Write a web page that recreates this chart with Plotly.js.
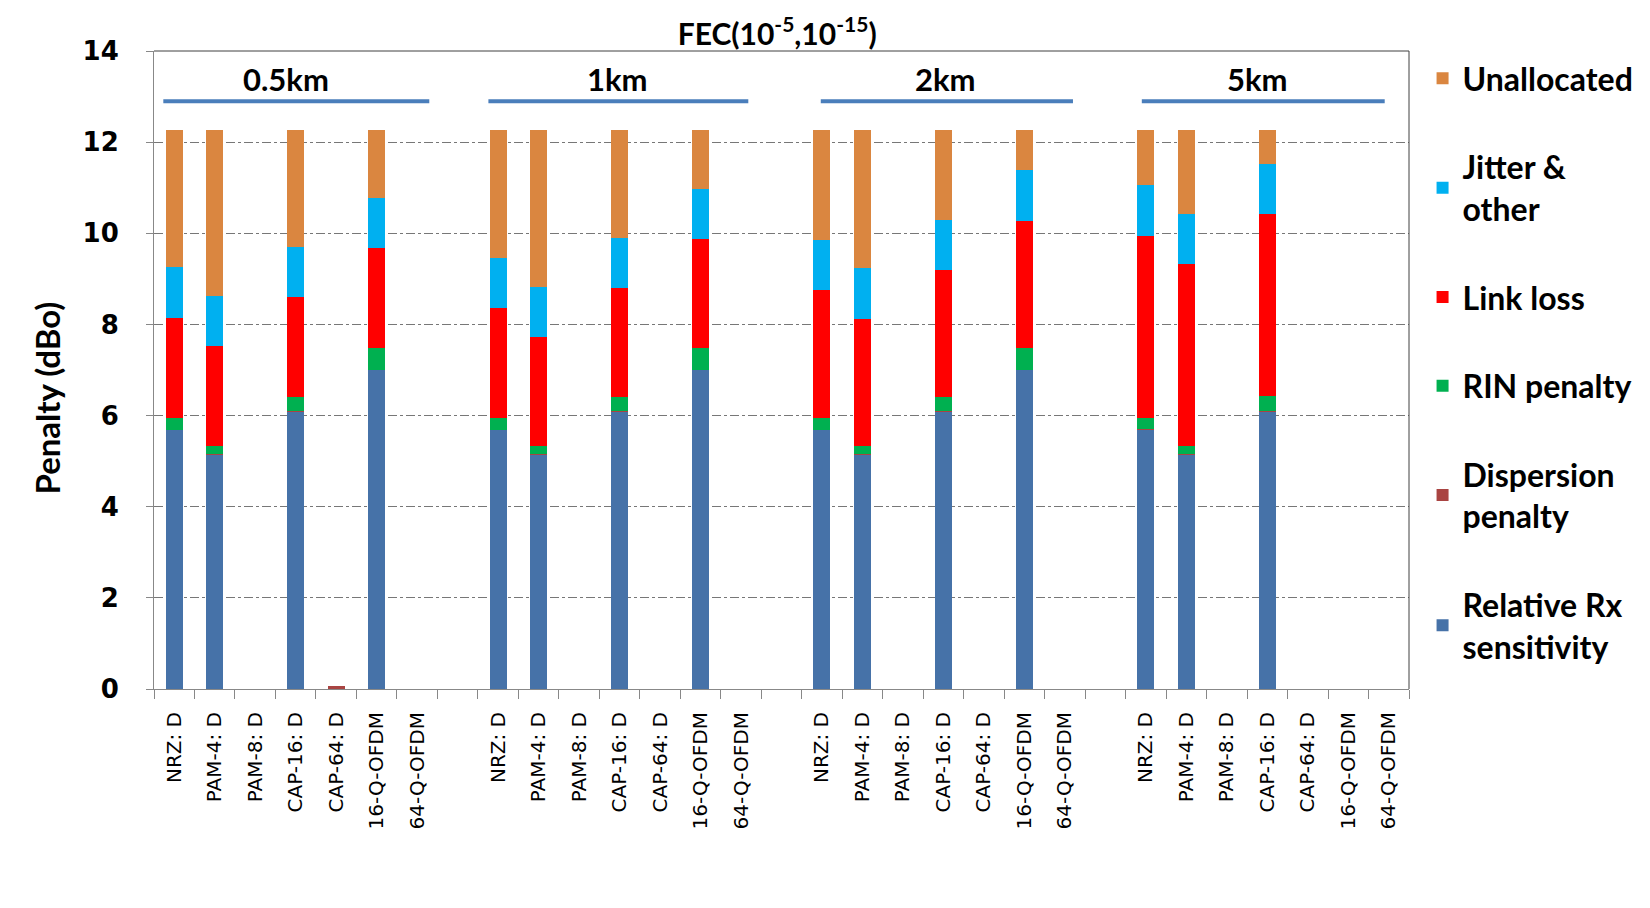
<!DOCTYPE html>
<html>
<head>
<meta charset="utf-8">
<script src="https://cdn.plot.ly/plotly-3.0.1.min.js"></script>
<style>html,body{margin:0;padding:0;background:#fff;}#chart{width:1650px;height:908px;}</style>
</head>
<body>
<div id="chart"></div>
<script>
// ---- data ----
const modulations = ["NRZ: D","PAM-4: D","PAM-8: D","CAP-16: D","CAP-64: D","16-Q-OFDM","64-Q-OFDM"];
const distances = ["0.5km","1km","2km","5km"];
// each series: 4 distance groups x 7 modulations (null = no bar)
const relRxSensitivity = [
  5.68,5.13,null,6.08,null,6.99,null,
  5.68,5.13,null,6.08,null,6.99,null,
  5.68,5.13,null,6.08,null,6.99,null,
  5.68,5.13,null,6.08,null,null,null];
const dispersionPenalty = [
  0.01,0.02,null,0.02,0.06,0.01,null,
  0.01,0.02,null,0.02,null,0.01,null,
  0.01,0.02,null,0.02,null,0.01,null,
  0.02,0.03,null,0.03,null,null,null];
const rinPenalty = [
  0.26,0.18,null,0.30,null,0.48,null,
  0.26,0.18,null,0.30,null,0.48,null,
  0.26,0.18,null,0.30,null,0.48,null,
  0.25,0.17,null,0.31,null,null,null];
const linkLoss = [
  2.2,2.2,null,2.2,null,2.2,null,
  2.4,2.4,null,2.4,null,2.4,null,
  2.8,2.8,null,2.8,null,2.8,null,
  4.0,4.0,null,4.0,null,null,null];
const jitterOther = [
  1.1,1.1,null,1.1,null,1.1,null,
  1.1,1.1,null,1.1,null,1.1,null,
  1.1,1.1,null,1.1,null,1.1,null,
  1.1,1.1,null,1.1,null,null,null];
const unallocated = [
  3.02,3.63,null,2.56,null,1.48,null,
  2.81,3.43,null,2.36,null,1.28,null,
  2.41,3.03,null,1.96,null,0.88,null,
  1.21,1.83,null,0.74,null,null,null];
const yTicks = [0,2,4,6,8,10,12,14];

// ---- build category slots (7 per group + 1 empty gap slot) ----
const slotsPerGroup = modulations.length + 1;
const nSlots = distances.length * slotsPerGroup - 1;
const xPos = [], tickText = [];
distances.forEach((d, g) => modulations.forEach((m, k) => { xPos.push(g * slotsPerGroup + k); tickText.push(m); }));
const boundaries = [];
for (let i = 0; i <= nSlots; i++) boundaries.push(i - 0.5);

const series = [
  {name: "Relative Rx<br>sensitivity", y: relRxSensitivity, color: "#4672A8"},
  {name: "Dispersion<br>penalty", y: dispersionPenalty, color: "#A94442"},
  {name: "RIN penalty", y: rinPenalty, color: "#00B050"},
  {name: "Link loss", y: linkLoss, color: "#FF0000"},
  {name: "Jitter &<br>other", y: jitterOther, color: "#00B0F0"},
  {name: "Unallocated", y: unallocated, color: "#DA8640"}
];
const traces = series.map((s, i) => ({
  type: "bar", x: xPos, y: s.y, name: s.name, legendgroup: "g" + i, legendrank: 1000 - i * 10,
  marker: {color: s.color, line: {width: 0}}, width: 0.42, hoverinfo: "y+name"
}));

// group header decorations
const groupLine = [[-0.27, 6.3], [7.76, 14.18], [15.97, 22.2], [23.9, 29.9]];
const groupTextX = [2.75, 10.95, 19.06, 26.75];
const shapes = [], annotations = [];
distances.forEach((d, g) => {
  shapes.push({type: "line", xref: "x", yref: "y", x0: groupLine[g][0], x1: groupLine[g][1], y0: 12.9, y1: 12.9,
    line: {color: "#4A7EBB", width: 4}});
  annotations.push({xref: "x", yref: "y", x: groupTextX[g], y: 13.38, text: "<b>" + d + "</b>", showarrow: false,
    font: {family: "Lato, 'Open Sans', sans-serif", size: 31, color: "#000"}, yanchor: "middle"});
});
shapes.push({type: "line", xref: "paper", yref: "paper", x0: 0, x1: 1, y0: 1, y1: 1, line: {color: "#404040", width: 1}});
shapes.push({type: "line", xref: "paper", yref: "paper", x0: 1, x1: 1, y0: 0, y1: 1, line: {color: "#404040", width: 1}});

const nb = "\u00A0".repeat(7);
const layout = {
  width: 1650, height: 908,
  margin: {l: 154, r: 240, t: 51, b: 219},
  paper_bgcolor: "#fff", plot_bgcolor: "#fff",
  barmode: "stack",
  showlegend: true,
  title: {text: "<b>FEC(10<sup>-5</sup>,10<sup>-15</sup>)</b>", xref: "container", yref: "container",
    x: 0.471, y: 0.962, xanchor: "center", yanchor: "middle",
    font: {family: "Lato, 'Open Sans', sans-serif", size: 30, color: "#000"}},
  xaxis: {
    type: "linear", range: [-0.5, nSlots - 0.5], tickmode: "array", tickvals: xPos, ticktext: tickText,
    tickangle: -90, ticks: "", showgrid: false, zeroline: false,
    showline: true, linecolor: "#888", linewidth: 1, ticklabelstandoff: 14,
    tickfont: {family: "'DejaVu Sans', Verdana, sans-serif", size: 20, color: "#000"},
    minor: {tickmode: "array", tickvals: boundaries, ticks: "outside", ticklen: 9, tickcolor: "#888", tickwidth: 1, showgrid: false}
  },
  yaxis: {
    range: [0, 14], tickmode: "array", tickvals: yTicks, ticks: "outside", ticklen: 7, tickcolor: "#888",
    showline: true, linecolor: "#888", linewidth: 1, zeroline: false,
    showgrid: true, gridcolor: "#777", griddash: "dashdot", gridwidth: 1,
    ticklabelstandoff: 22,
    tickfont: {family: "'DejaVu Sans', Verdana, sans-serif", size: 26, color: "#000", weight: "bold"},
    title: {text: "<b>Penalty (dBo)" + nb + "</b>", standoff: 12, font: {family: "Lato, 'Open Sans', sans-serif", size: 33, color: "#000"}}
  },
  legend: {
    x: 1.01, xanchor: "left", y: 1.0, yanchor: "top", traceorder: "grouped", tracegroupgap: 44,
    font: {family: "Lato, 'Open Sans', sans-serif", size: 32, color: "#000", weight: "bold"},
    bgcolor: "rgba(0,0,0,0)", borderwidth: 0, valign: "middle"
  },
  shapes: shapes,
  annotations: annotations
};

Plotly.newPlot("chart", traces, layout, {displayModeBar: false, staticPlot: true});
</script>
</body>
</html>
